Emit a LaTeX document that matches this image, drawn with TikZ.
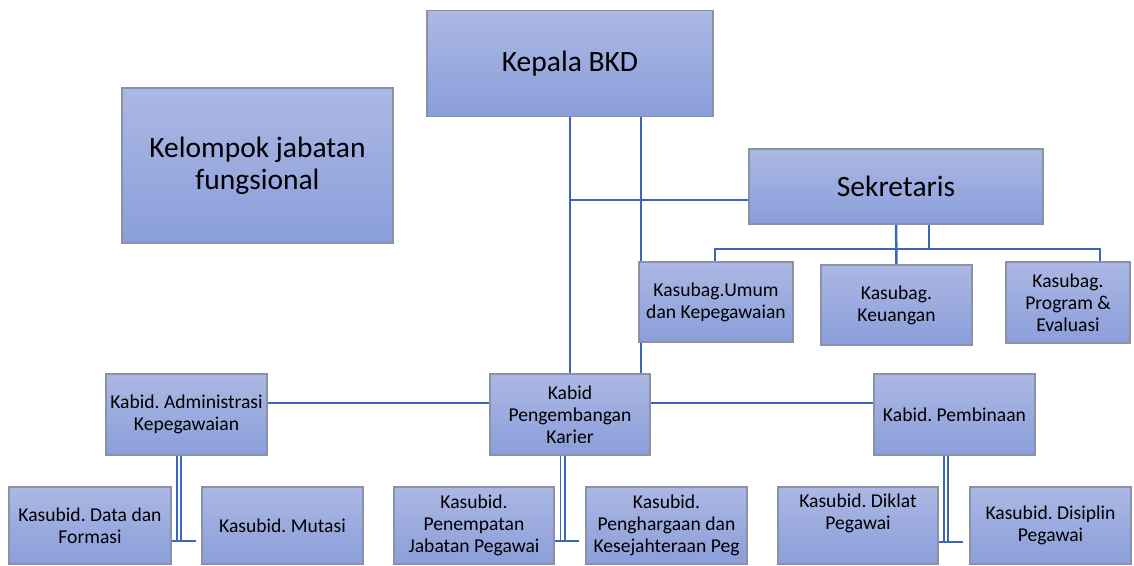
\documentclass[tikz,border=0pt]{standalone}
\usepackage{fontspec}
\setmainfont{Carlito}
\frenchspacing
\definecolor{boxtop}{RGB}{172,184,228}
\definecolor{boxbot}{RGB}{138,158,218}
\definecolor{boxedge}{RGB}{140,146,165}
\definecolor{linkblue}{RGB}{62,102,184}
\usetikzlibrary{positioning,calc}
\tikzset{
  box/.style={rectangle,draw=boxedge,line width=0.8pt,
              top color=boxtop,bottom color=boxbot,
              minimum width=#1,minimum height=40pt,align=center,
              inner xsep=1pt,inner ysep=2pt,
              font=\fontsize{9.8}{11}\selectfont},
  box/.default=80pt,
  bigtext/.style={font=\fontsize{14.75}{16}\selectfont},
  link/.style={draw=linkblue,line width=1.25pt},
  twin/.style={draw=linkblue,line width=0.9pt},
}

\begin{document}
\begin{tikzpicture}[x=0.5pt,y=-0.5pt]
    \useasboundingbox (0,0) rectangle (1134,566);

    % top level
    \node[box=143pt,minimum height=53pt,bigtext] (kepala) at (570,63.5) {Kepala BKD};
    \node[box=135.5pt,minimum height=77.5pt,bigtext] (kelompok) at (257.5,165.5) {Kelompok jabatan\\fungsional};
    \node[box=147pt,minimum height=37.5pt,bigtext] (sek) at (896,186.5) {Sekretaris};

    % kasubag
    \node[box=77pt] (umum) at (716,302) {Kasubag.Umum\\dan Kepegawaian};
    \node[box=75.5pt] (keu) at (896.5,305) {Kasubag.\\Keuangan};
    \node[box=62pt,minimum height=40.5pt] (prog) at (1068,302.5) {Kasubag.\\Program \&\\Evaluasi};

    % kabid
    \node[box=80.5pt,minimum height=40.5pt] (kabidadm) at (186.5,414.5) {Kabid. Administrasi\\Kepegawaian};
    \node[box=80pt,minimum height=40.5pt] (kabidpk) at (570,414.5) {Kabid\\Pengembangan\\Karier};
    \node[box=80.5pt,minimum height=40.5pt] (kabidbin) at (954.5,414.5) {Kabid. Pembinaan};

    % kasubid
    \node[box=81pt,minimum height=38.5pt] (data) at (90,525.5) {Kasubid. Data dan\\Formasi};
    \node[box=80.5pt,minimum height=38.5pt] (mutasi) at (282.5,525.5) {Kasubid. Mutasi};
    \node[box=80pt,minimum height=38.5pt] (tempat) at (474,525.5) {Kasubid.\\Penempatan\\Jabatan Pegawai};
    \node[box=80.5pt,minimum height=38.5pt] (harga) at (666.5,525.5) {Kasubid.\\Penghargaan dan\\Kesejahteraan Peg};
    \node[box=80pt,minimum height=38.5pt] (diklat) at (858,525.5) {Kasubid. Diklat\\Pegawai\\[3pt]\mbox{}};
    \node[box=80.5pt,minimum height=38.5pt] (disiplin) at (1050.5,525.5) {Kasubid. Disiplin\\Pegawai};

    % kepala to kabid and sekretaris
    \draw[link] (kepala) -- (kabidpk);
    \draw[link] ([yshift=-6.75pt]sek.west) -- ([yshift=-6.75pt]sek.west -| kepala.south);
    \draw[link] ([xshift=1.5pt]umum.north west) -- ([xshift=1.5pt]kepala.south -| umum.north west);
    \draw[link] ([xshift=1.5pt]umum.south west) -- ([xshift=1.5pt]kabidpk.north -| umum.south west);

    % sekretaris to kasubag
    \coordinate (busL) at (715,249);
    \coordinate (busR) at (1100,249);
    \draw[link] (umum.north -| busL) -- (busL) -- (busR) -- (prog.north -| busR);
    \draw[link] (sek) -- (keu);
    \draw[link] ([xshift=16.5pt]sek.south) -- ([xshift=16.5pt]sek.south |- busL);

    % kabid row
    \draw[link] ([yshift=5.75pt]kabidadm.east) -- ([yshift=5.75pt]kabidpk.west);
    \draw[link] ([yshift=5.75pt]kabidpk.east) -- ([yshift=5.75pt]kabidbin.west);

    % kabid to kasubid
    \coordinate (jadm) at (179,541);
    \coordinate (jpk) at (562.5,541);
    \coordinate (jbin) at (946,542);
    \draw[twin] ([xshift=-1.05pt]kabidadm.south -| jadm) -- ([xshift=-1.05pt]jadm);
    \draw[twin] ([xshift=1.05pt]kabidadm.south -| jadm) -- ([xshift=1.05pt]jadm);
    \draw[link] (data.east |- jadm) -- ([xshift=-2.5pt]mutasi.west |- jadm);
    \draw[twin] ([xshift=-1.05pt]kabidpk.south -| jpk) -- ([xshift=-1.05pt]jpk);
    \draw[twin] ([xshift=1.05pt]kabidpk.south -| jpk) -- ([xshift=1.05pt]jpk);
    \draw[link] (tempat.east |- jpk) -- ([xshift=-3pt]harga.west |- jpk);
    \draw[twin] ([xshift=-1.05pt]kabidbin.south -| jbin) -- ([xshift=-1.05pt]jbin);
    \draw[twin] ([xshift=1.05pt]kabidbin.south -| jbin) -- ([xshift=1.05pt]jbin);
    \draw[link] (diklat.east |- jbin) -- ([xshift=-3pt]disiplin.west |- jbin);

\end{tikzpicture}
\end{document}
